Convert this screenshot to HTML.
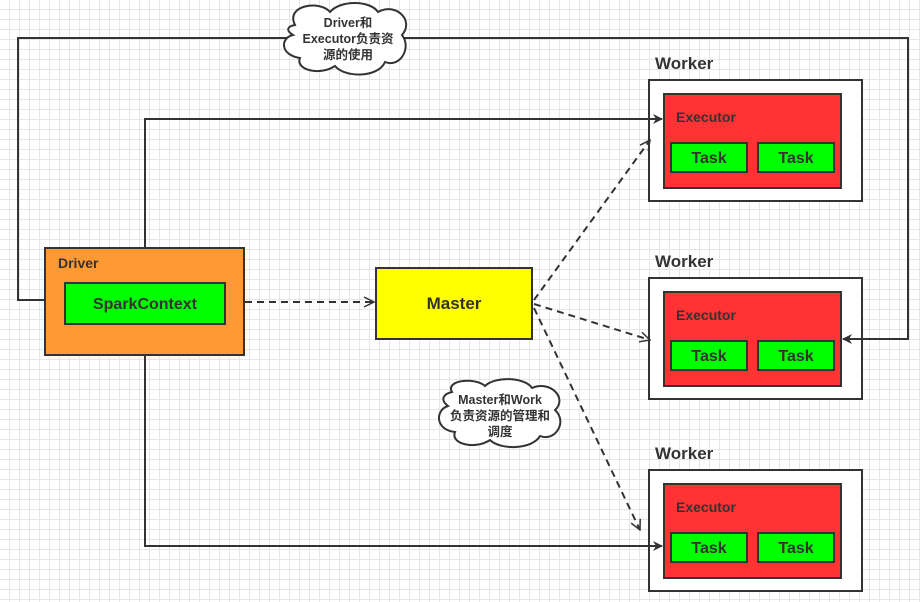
<!DOCTYPE html>
<html><head><meta charset="utf-8"><style>
body{margin:0;width:920px;height:597px;overflow:hidden;background:#fff;
background-image:linear-gradient(#e6e6e6 1px,transparent 1px),linear-gradient(90deg,#e6e6e6 1px,transparent 1px);background-size:10px 10px;background-position:-1px -1px}
text{font-family:"Liberation Sans","Noto Sans CJK SC",sans-serif;font-weight:bold;fill:#333}
</style></head><body>
<svg width="920" height="597" xmlns="http://www.w3.org/2000/svg">
<defs>
<marker id="a" markerWidth="10" markerHeight="10" refX="9" refY="5" orient="auto" markerUnits="userSpaceOnUse"><path d="M0,0 L10,5 L0,10 L3,5z" fill="#333"/></marker>
<marker id="o" markerWidth="12" markerHeight="12" refX="11" refY="6" orient="auto" markerUnits="userSpaceOnUse"><path d="M1,1 L11,6 L1,11" fill="none" stroke="#333" stroke-width="1.5"/></marker>
</defs>
<rect x="45" y="248" width="199" height="107" fill="#ff9933" stroke="#333" stroke-width="2"/>
<text x="58" y="268" font-size="14">Driver</text>
<rect x="65" y="283" width="160" height="41" fill="#00ff00" stroke="#333" stroke-width="2"/>
<text x="145" y="309" font-size="16" text-anchor="middle">SparkContext</text>
<rect x="376" y="268" width="156" height="71" fill="#ffff00" stroke="#333" stroke-width="2"/>
<text x="454" y="309" font-size="17" text-anchor="middle">Master</text>
<g id="w">
<text x="655" y="69" font-size="17">Worker</text>
<rect x="649" y="80" width="213" height="121" fill="#fff" stroke="#333" stroke-width="2"/>
<rect x="664" y="94" width="177" height="94" fill="#ff3333" stroke="#333" stroke-width="2"/>
<text x="676" y="122" font-size="14">Executor</text>
<rect x="671" y="143" width="76" height="29" fill="#00ff00" stroke="#333" stroke-width="2"/>
<rect x="758" y="143" width="76" height="29" fill="#00ff00" stroke="#333" stroke-width="2"/>
<text x="709" y="163" font-size="16" text-anchor="middle">Task</text>
<text x="796" y="163" font-size="16" text-anchor="middle">Task</text>
</g>
<use href="#w" y="198"/>
<use href="#w" y="390"/>
<g fill="none" stroke="#333" stroke-width="2">
<path d="M45,300 H18 V38 H908 V339 H843" marker-end="url(#a)"/>
<path d="M145,248 V119 H662" marker-end="url(#a)"/>
<path d="M145,355 V546 H662" marker-end="url(#a)"/>
</g>
<g fill="none" stroke="#333" stroke-width="2" stroke-dasharray="7,5">
<path d="M245,302 H374" marker-end="url(#o)"/>
<path d="M534,300 L650,140" marker-end="url(#o)"/>
<path d="M534,304 L650,340" marker-end="url(#o)"/>
<path d="M534,308 L640,530" marker-end="url(#o)"/>
</g>
<path d="M295,25 C285,5 320,0 330,12 C340,0 370,0 378,12 C395,2 415,20 402,35 C412,48 400,68 385,62 C378,78 345,78 335,66 C320,76 295,70 300,58 C280,55 280,38 293,35 C285,30 288,26 295,25z" fill="#fff" stroke="#333" stroke-width="2"/>
<text x="348" y="27" font-size="12.5" text-anchor="middle">Driver和</text>
<text x="348" y="43" font-size="12.5" text-anchor="middle">Executor负责资</text>
<text x="348" y="59" font-size="12.5" text-anchor="middle">源的使用</text>
<path d="M452,392 C445,380 475,377 485,386 C495,376 525,377 532,388 C550,380 568,398 555,410 C568,422 555,442 540,436 C532,450 500,450 490,440 C475,450 450,444 455,432 C435,430 435,410 448,406 C440,400 443,394 452,392z" fill="#fff" stroke="#333" stroke-width="2"/>
<text x="500" y="404" font-size="12.5" text-anchor="middle">Master和Work</text>
<text x="500" y="420" font-size="12.5" text-anchor="middle">负责资源的管理和</text>
<text x="500" y="436" font-size="12.5" text-anchor="middle">调度</text>
</svg>
</body></html>
